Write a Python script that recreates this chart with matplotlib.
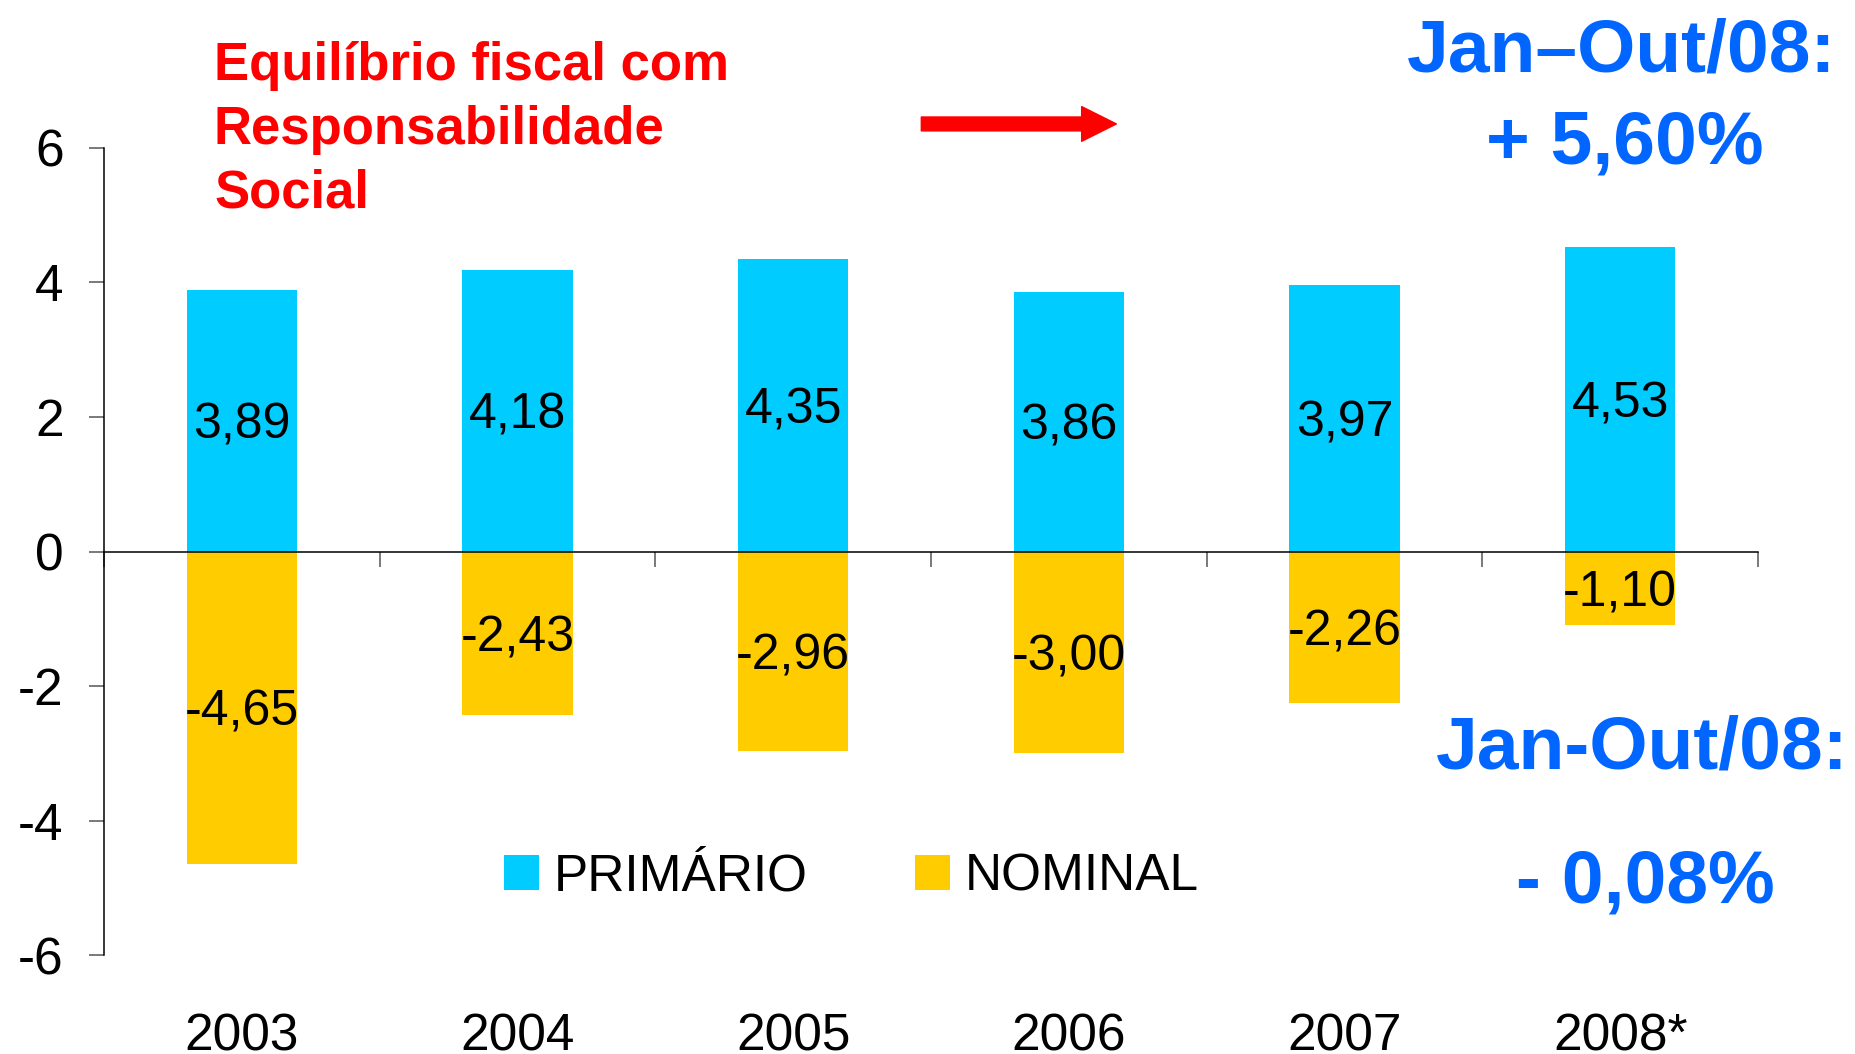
import matplotlib
matplotlib.use("Agg")
import matplotlib.pyplot as plt
from matplotlib.ticker import FixedLocator

plt.rcParams['font.family'] = ['Liberation Sans', 'DejaVu Sans']

# Resultado fiscal (% PIB)
anos = ['2003', '2004', '2005', '2006', '2007', '2008*']
primario = [3.89, 4.18, 4.35, 3.86, 3.97, 4.53]
nominal = [-4.65, -2.43, -2.96, -3.00, -2.26, -1.10]
primario_txt = ['3,89', '4,18', '4,35', '3,86', '3,97', '4,53']
nominal_txt = ['-4,65', '-2,43', '-2,96', '-3,00', '-2,26', '-1,10']
yticks = [-6, -4, -2, 0, 2, 4, 6]
ytick_txt = ['-6', '-4', '-2', '0', '2', '4', '6']

cor_prim = '#00CCFF'
cor_nom = '#FFCC00'
azul = '#0066FF'

fig = plt.figure(figsize=(18.56, 10.54), dpi=100)
ax = fig.add_axes([0.0560, 0.0939, 0.8912, 0.7657])

x = list(range(len(anos)))
b1 = ax.bar(x, primario, width=0.4, color=cor_prim, label='PRIMÁRIO', zorder=2)
b2 = ax.bar(x, nominal, width=0.4, color=cor_nom, label='NOMINAL', zorder=2)
rot = ax.bar_label(b1, labels=primario_txt, label_type='center', fontsize=36)
rot += ax.bar_label(b2, labels=nominal_txt, label_type='center', fontsize=36)
for t in rot:
    t.set_va('center_baseline')

ax.set_xlim(-0.5, 5.5)
ax.set_ylim(-6, 6)

# eixo x na linha do zero, rotulos embaixo
ax.spines['top'].set_visible(False)
ax.spines['right'].set_visible(False)
ax.spines['bottom'].set_position(('data', 0))
ax.spines['bottom'].set_linewidth(1.1)
ax.spines['left'].set_linewidth(1.1)
ax.spines['bottom'].set_zorder(3)

ax.set_xticks(x)
ax.set_xticklabels(anos, fontsize=37)
ax.xaxis.set_minor_locator(FixedLocator([-0.5, 0.5, 1.5, 2.5, 3.5, 4.5, 5.5]))
ax.tick_params(axis='x', which='major', length=0, pad=332)
ax.tick_params(axis='x', which='minor', length=11, width=1.1, color='#555555', direction='out')

ax.set_yticks(yticks)
ax.set_yticklabels(ytick_txt, fontsize=37)
ax.tick_params(axis='y', length=11, width=1.1, color='#555555', pad=18)

leg = ax.legend(handles=[b1, b2], ncol=2, frameon=False, fontsize=37,
                loc='center left', bbox_to_anchor=(0.2716, 0.168),
                bbox_transform=fig.transFigure, borderpad=0, borderaxespad=0,
                handlelength=0.68, handleheight=0.68, handletextpad=0.28,
                columnspacing=2.1)

# textos
verm = '#FF0000'
fig.text(0.1153, 0.9241, 'Equilíbrio fiscal com', color=verm, fontsize=38,
         fontweight='bold', va='baseline')
fig.text(0.1153, 0.8634, 'Responsabilidade', color=verm, fontsize=38,
         fontweight='bold', va='baseline')
fig.text(0.1153, 0.8036, 'Social', color=verm, fontsize=38,
         fontweight='bold', va='baseline')

ax.annotate('', xy=(0.6015, 0.8824), xytext=(0.4964, 0.8824),
            xycoords='figure fraction', textcoords='figure fraction',
            arrowprops=dict(arrowstyle='simple,head_width=2.5,head_length=2.5,tail_width=1.0',
                            mutation_scale=10, color=verm, shrinkA=0, shrinkB=0))

fig.text(0.8734, 0.9317, 'Jan–Out/08:', color=azul, fontsize=54,
         fontweight='bold', ha='center', va='baseline')
fig.text(0.8755, 0.8453, '+ 5,60%', color=azul, fontsize=54,
         fontweight='bold', ha='center', va='baseline')
fig.text(0.8847, 0.2713, 'Jan-Out/08:', color=azul, fontsize=54,
         fontweight='bold', ha='center', va='baseline')
fig.text(0.8863, 0.1433, '- 0,08%', color=azul, fontsize=54,
         fontweight='bold', ha='center', va='baseline')

fig.savefig('out.png', dpi=100)
